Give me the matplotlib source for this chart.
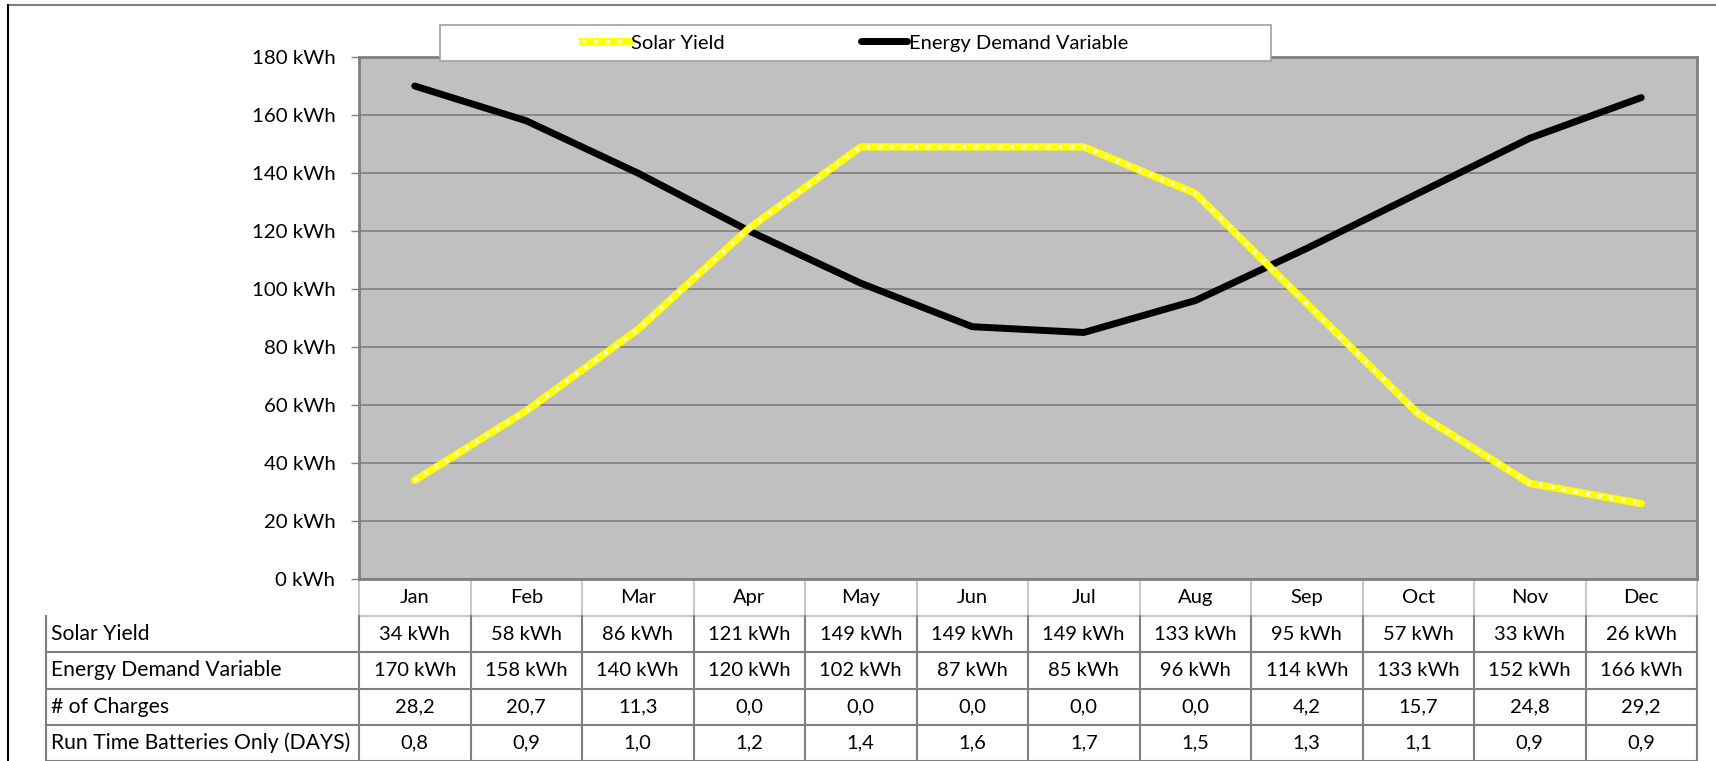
import matplotlib.pyplot as plt
from matplotlib.lines import Line2D
from matplotlib.patches import Rectangle
import matplotlib.transforms as mtransforms

months = ["Jan", "Feb", "Mar", "Apr", "May", "Jun", "Jul", "Aug", "Sep", "Oct", "Nov", "Dec"]
solar = [34, 58, 86, 121, 149, 149, 149, 133, 95, 57, 33, 26]
demand = [170, 158, 140, 120, 102, 87, 85, 96, 114, 133, 152, 166]
charges = [28.2, 20.7, 11.3, 0.0, 0.0, 0.0, 0.0, 0.0, 4.2, 15.7, 24.8, 29.2]
runtime = [0.8, 0.9, 1.0, 1.2, 1.4, 1.6, 1.7, 1.5, 1.3, 1.1, 0.9, 0.9]
row_labels = ["Solar Yield", "Energy Demand Variable", "# of Charges", "Run Time Batteries Only (DAYS)"]
y_ticks = list(range(0, 181, 20))

plt.rcParams['font.family'] = ['Lato', 'DejaVu Sans']
FS = 14.5

W, H = 1716, 761
fig = plt.figure(figsize=(W / 100, H / 100), dpi=100)


def box(x0, y0, x1, y1):
    # pixel box (top-left origin) -> figure fraction rect
    return [x0 / W, 1 - y1 / H, (x1 - x0) / W, (y1 - y0) / H]


ax_top, ax_bot = 57, 579
ax = fig.add_axes(box(359, ax_top, 1697, ax_bot))
ax.set_facecolor("#c0c0c0")
x = list(range(len(months)))

ax.plot(x, demand, color="black", lw=5, solid_capstyle="round", solid_joinstyle="round", zorder=3)
ax.plot(x, solar, color="#ffff00", lw=5.3, solid_capstyle="round", solid_joinstyle="round", zorder=4)
ax.plot(x, solar, color="white", lw=2.4, ls=(0, (1, 2.6)), zorder=5)

ax.set_xlim(-0.5, 11.5)
ax.set_ylim(0, 180)
ax.set_yticks(y_ticks)
ax.set_yticklabels([f"{v} kWh" for v in y_ticks], fontsize=14.7)
ax.set_xticks([])
ax.grid(axis="y", color="#808080", lw=1.2)
ax.set_axisbelow(True)
ax.tick_params(axis="y", length=6, width=1, color="#808080", pad=11)
for s in ax.spines.values():
    s.set_color("#808080")
    s.set_linewidth(2)

# legend box drawn separately, entries placed inside it
lb = box(440, 25, 1271, 61)
fig.add_artist(Rectangle(lb[:2], lb[2], lb[3], transform=fig.transFigure,
                         facecolor="white", edgecolor="#a0a0a0", lw=1.2, zorder=5))
h_solar = (Line2D([], [], color="#ffff00", lw=5), Line2D([], [], color="white", lw=2.4, ls=(0, (1, 2.6))))
h_dem = Line2D([], [], color="black", lw=5, solid_capstyle="round")
leg = fig.legend([h_solar, h_dem], ["Solar Yield", "Energy Demand Variable"], ncol=2,
                 loc="center", bbox_to_anchor=lb, fontsize=14.5,
                 handlelength=2.3, handletextpad=0.1, columnspacing=6.8,
                 frameon=False, borderaxespad=0, borderpad=0.2)
leg.set_zorder(6)

# data table below the chart
ppx = ax_bot - ax_top
row_edges = [579, 616, 652, 688.5, 724.75, 761]
ax_y = lambda py: (ax_bot - py) / ppx
trans = mtransforms.blended_transform_factory(ax.transData, ax.transAxes)
ftrans = mtransforms.blended_transform_factory(fig.transFigure, ax.transAxes)

light, dark = "#c8c8c8", "#808080"
# header row
for i, m in enumerate(months):
    ax.text(i, ax_y((row_edges[0] + row_edges[1]) / 2), m, transform=trans, ha="center", va="center",
            fontsize=FS, clip_on=False)
for i in range(len(months) + 1):
    ax.plot([i - 0.5, i - 0.5], [ax_y(row_edges[0]), ax_y(row_edges[1])], transform=trans,
            color=light, lw=1.5, clip_on=False)

cell_text = [
    [f"{v} kWh" for v in solar],
    [f"{v} kWh" for v in demand],
    [f"{v:.1f}".replace(".", ",") for v in charges],
    [f"{v:.1f}".replace(".", ",") for v in runtime],
]
for r, (lab, vals) in enumerate(zip(row_labels, cell_text)):
    yc = ax_y((row_edges[r + 1] + row_edges[r + 2]) / 2)
    fig.text(51 / W, yc, lab, transform=ftrans, fontsize=15.2, va="center", ha="left")
    for i, v in enumerate(vals):
        ax.text(i, yc, v, transform=trans, ha="center", va="center", fontsize=FS, clip_on=False)

# table grid lines
x_left = 46 / W
for r in range(1, len(row_edges)):
    yy = ax_y(row_edges[r])
    if r > 1:
        fig.add_artist(Line2D([x_left, 359 / W], [yy, yy], transform=ftrans, color=dark, lw=1.5))
    ax.plot([-0.5, 11.5], [yy, yy], transform=trans, color=light if r == 1 else dark, lw=1.5, clip_on=False)
fig.add_artist(Line2D([x_left, x_left], [ax_y(row_edges[1]), ax_y(row_edges[-1])], transform=ftrans,
                      color=dark, lw=1.5))
for i in range(len(months) + 1):
    ax.plot([i - 0.5, i - 0.5], [ax_y(row_edges[1]), ax_y(row_edges[-1])], transform=trans,
            color=dark, lw=1.5, clip_on=False)

# outer chart frame
fig.add_artist(Line2D([8 / W, 1], [1 - 5 / H, 1 - 5 / H], color="#808080", lw=1.5))
fig.add_artist(Line2D([8 / W, 8 / W], [0, 1 - 5 / H], color="black", lw=1.5))

fig.savefig("out.png", dpi=100, facecolor="white")
